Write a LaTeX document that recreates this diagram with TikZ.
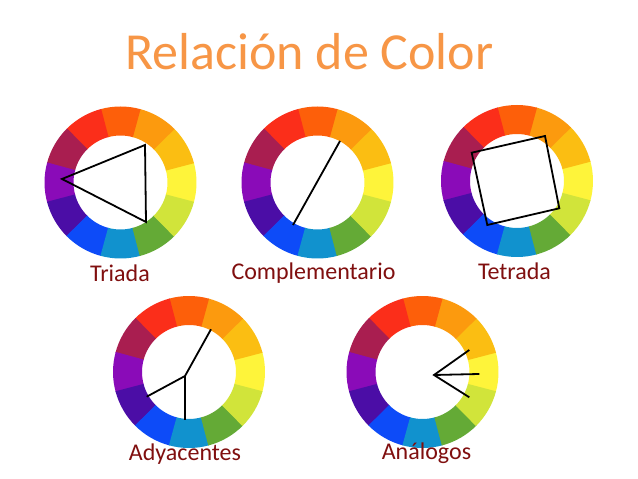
\documentclass[tikz,border=0pt]{standalone}
\usepackage{fontspec}
\setmainfont{Carlito}
\definecolor{cA}{HTML}{FEF43A}
\definecolor{cB}{HTML}{FBBE12}
\definecolor{cC}{HTML}{FC9A0E}
\definecolor{cD}{HTML}{FD5F0A}
\definecolor{cE}{HTML}{FB2E1A}
\definecolor{cF}{HTML}{A91E50}
\definecolor{cG}{HTML}{8A0BB8}
\definecolor{cH}{HTML}{4B0DA6}
\definecolor{cI}{HTML}{0D4BF8}
\definecolor{cJ}{HTML}{1192CE}
\definecolor{cK}{HTML}{64AA36}
\definecolor{cL}{HTML}{D1E43A}
\definecolor{titlecol}{HTML}{F79646}
\definecolor{labelcol}{HTML}{800F0F}
\newcommand\colorwheel[1]{%
  \begin{scope}[shift={(#1)}]
    \foreach \c [count=\i from 0] in {cA,cB,cC,cD,cE,cF,cG,cH,cI,cJ,cK,cL}{
      \pgfmathsetmacro\aS{\i*30-15.3}
      \pgfmathsetmacro\aE{\i*30+15.3}
      \fill[\c] (\aS:47pt) -- (\aS:76pt) arc[start angle=\aS, end angle=\aE, radius=76pt]
        -- (\aE:47pt) arc[start angle=\aE, end angle=\aS, radius=47pt] -- cycle;
    }
  \end{scope}}
\tikzset{
  titletext/.style={font=\fontsize{52}{58}\selectfont, text=titlecol, anchor=base, inner sep=0pt},
  wheellabel/.style={font=\fontsize{24}{27}\selectfont, text=labelcol, anchor=base, inner sep=0pt},
  relline/.style={draw=black, line width=1.8pt}
}
\begin{document}
\begin{tikzpicture}[x=1pt,y=1pt]
\fill[white] (0,0) rectangle (638,479);
\useasboundingbox (0,0) rectangle (638,479);

\node[titletext] (title) at (309.5,409) {Relación de Color};

% wheels
\colorwheel{120.5,296.5}
\colorwheel{317.5,296.5}
\colorwheel{517,298}
\colorwheel{189,107}
\colorwheel{422.5,107}

% Triada
\coordinate (t1) at (145,334);
\coordinate (t2) at (146,257);
\coordinate (t3) at (62,300);
\draw[relline] (t1) -- (t2) -- (t3) -- cycle;

% Complementario
\coordinate (c1) at (340,338);
\coordinate (c2) at (293,254);
\draw[relline] (c1) -- (c2);

% Tetrada
\coordinate (q1) at (471.7,326.3);
\coordinate (q2) at (545,343);
\coordinate (q3) at (559.3,270.7);
\coordinate (q4) at (487.3,254);
\draw[relline] (q1) -- (q2) -- (q3) -- (q4) -- cycle;

% Adyacentes
\coordinate (ah) at (185,103);
\coordinate (a1) at (211,149.7);
\coordinate (a2) at (146.7,82.3);
\coordinate (a3) at (185,59);
\draw[relline] (a1) -- (ah) -- (a2);
\draw[relline] (ah) -- (a3);

% Analogos
\coordinate (nh) at (434,104);
\coordinate (n1) at (469.3,129);
\coordinate (n2) at (479.3,105);
\coordinate (n3) at (469.3,81.7);
\draw[relline] (n1) -- (nh) -- (n3);
\draw[relline] (nh) -- (n2);

% labels
\node[wheellabel] (lt) at (120,197) {Triada};
\node[wheellabel] (lc) at (313.5,199) {Complementario};
\node[wheellabel] (lq) at (514.5,199) {Tetrada};
\node[wheellabel] (la) at (185,18) {Adyacentes};
\node[wheellabel] (ln) at (426.5,19) {Análogos};
\end{tikzpicture}
\end{document}
